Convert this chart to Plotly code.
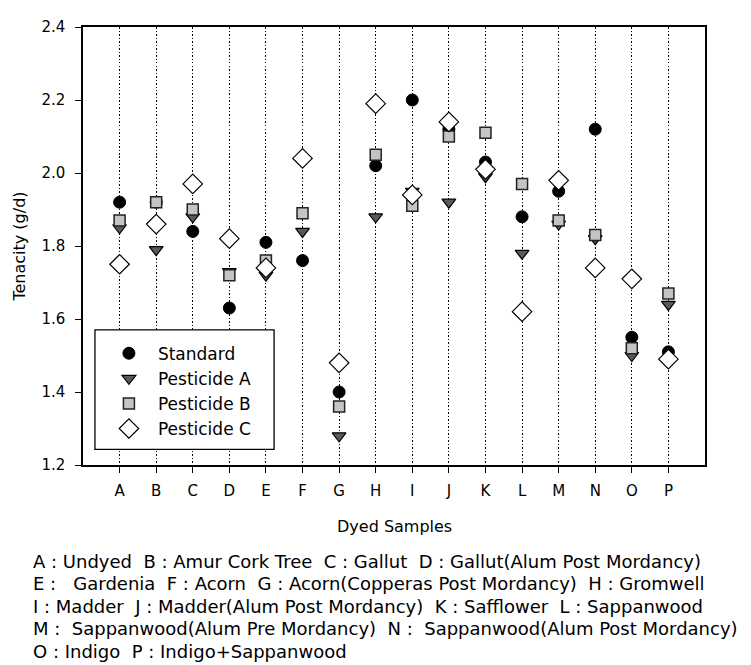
import plotly.graph_objects as go

categories = ["A", "B", "C", "D", "E", "F", "G", "H", "I", "J", "K", "L", "M", "N", "O", "P"]
standard = [1.92, 1.92, 1.84, 1.63, 1.81, 1.76, 1.40, 2.02, 2.20, 2.12, 2.03, 1.88, 1.95, 2.12, 1.55, 1.51]
pesticide_a = [1.85, 1.79, 1.88, 1.73, 1.72, 1.84, 1.28, 1.88, 1.95, 1.92, 1.99, 1.78, 1.86, 1.82, 1.50, 1.64]
pesticide_b = [1.87, 1.92, 1.90, 1.72, 1.76, 1.89, 1.36, 2.05, 1.91, 2.10, 2.11, 1.97, 1.87, 1.83, 1.52, 1.67]
pesticide_c = [1.75, 1.86, 1.97, 1.82, 1.74, 2.04, 1.48, 2.19, 1.94, 2.14, 2.01, 1.62, 1.98, 1.74, 1.71, 1.49]
y_ticks = [1.2, 1.4, 1.6, 1.8, 2.0, 2.2, 2.4]
caption_lines = [
    "A : Undyed  B : Amur Cork Tree  C : Gallut  D : Gallut(Alum Post Mordancy)",
    "E :   Gardenia  F : Acorn  G : Acorn(Copperas Post Mordancy)  H : Gromwell",
    "I : Madder  J : Madder(Alum Post Mordancy)  K : Safflower  L : Sappanwood",
    "M :  Sappanwood(Alum Pre Mordancy)  N :  Sappanwood(Alum Post Mordancy)",
    "O : Indigo  P : Indigo+Sappanwood",
]

FONT = "DejaVu Sans, Verdana, sans-serif"
OFF = 8  # page body margin
W, H = 751 - OFF, 665 - OFF
L, R, T, B = 80 - OFF, 46, 18 - OFF, 200
plot_h = H - T - B
plot_w = W - L - R


def py(ypix):
    return (H - B - (ypix - OFF)) / plot_h


def px(xpix):
    return ((xpix - OFF) - L) / plot_w


fig = go.Figure()
x_idx = list(range(len(categories)))
fig.add_trace(go.Scatter(x=x_idx, y=standard, mode="markers", name="Standard", legendgroup="s",
                         marker=dict(symbol="circle", size=12, color="black",
                                     line=dict(color="black", width=1))))
fig.add_trace(go.Scatter(x=x_idx, y=pesticide_a, mode="markers", name="Pesticide A", legendgroup="a",
                         marker=dict(symbol="triangle-down", size=12, color="#5a5a5a",
                                     line=dict(color="black", width=1.2))))
fig.add_trace(go.Scatter(x=x_idx, y=pesticide_b, mode="markers", name="Pesticide B", legendgroup="b",
                         marker=dict(symbol="square", size=11, color="#c4c4c4",
                                     line=dict(color="#222222", width=1.5))))
fig.add_trace(go.Scatter(x=x_idx, y=pesticide_c, mode="markers", name="Pesticide C", legendgroup="c",
                         marker=dict(symbol="diamond", size=15, color="white",
                                     line=dict(color="black", width=1.2))))

annotations = [
    dict(text="Dyed Samples", xref="paper", yref="paper", x=0.5, y=py(528),
         showarrow=False, font=dict(size=16, color="black", family=FONT),
         xanchor="center", yanchor="middle"),
]
for i, line in enumerate(caption_lines):
    annotations.append(dict(text=line, xref="paper", yref="paper",
                            x=px(28), y=py(563 + i * 23),
                            showarrow=False, xanchor="left", yanchor="middle",
                            font=dict(size=18, color="black", family=FONT)))

# legend frame (drawn as a layout shape so the box matches the reference size)
shapes = [dict(type="rect", xref="paper", yref="paper",
               x0=px(92), x1=px(272), y0=py(449), y1=py(327),
               line=dict(color="black", width=1.3), fillcolor="white", layer="above")]

fig.update_layout(
    width=W, height=H,
    margin=dict(l=L, r=R, t=T, b=B),
    paper_bgcolor="white", plot_bgcolor="white",
    font=dict(family=FONT, color="black"),
    showlegend=True,
    legend=dict(x=px(97), y=py(333), xanchor="left", yanchor="top",
                borderwidth=0, bgcolor="rgba(0,0,0,0)",
                font=dict(size=17, family=FONT, color="black"),
                itemwidth=48, tracegroupgap=2, traceorder="normal"),
    annotations=annotations,
    shapes=shapes,
)
fig.update_xaxes(range=[-1, 16], tickmode="array", tickvals=x_idx, ticktext=categories,
                 showgrid=True, gridcolor="black", griddash="1.5px,2px", gridwidth=1,
                 showline=True, linecolor="black", linewidth=1.5, mirror=True,
                 ticks="outside", ticklen=6, tickcolor="black", ticklabelstandoff=5,
                 tickfont=dict(size=15, family=FONT, color="black"),
                 zeroline=False)
fig.update_yaxes(range=[1.2, 2.4], tickmode="array", tickvals=y_ticks,
                 ticktext=[f"{v:.1f}" for v in y_ticks],
                 showgrid=False, showline=True, linecolor="black", linewidth=1.5, mirror=True,
                 ticks="outside", ticklen=6, tickcolor="black", ticklabelstandoff=7,
                 tickfont=dict(size=15, family=FONT, color="black"),
                 title=dict(text="Tenacity (g/d)", font=dict(size=16, family=FONT, color="black"),
                            standoff=12),
                 zeroline=False)

fig.write_html("out.html")
